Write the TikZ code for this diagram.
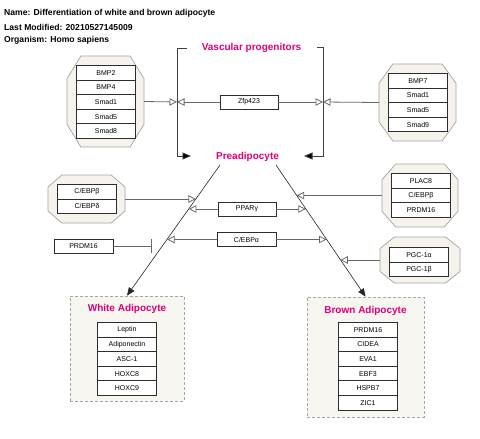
\documentclass[tikz,border=0pt]{standalone}
\usepackage{fontspec}
\setmainfont{Liberation Sans}
\usetikzlibrary{arrows.meta,calc}
\definecolor{mag}{RGB}{222,0,120}
\definecolor{octfill}{RGB}{245,243,235}
\definecolor{octdraw}{RGB}{165,165,165}
\definecolor{boxfill}{RGB}{246,245,240}
\definecolor{conn}{RGB}{105,105,105}
\definecolor{itemdraw}{RGB}{45,45,45}
\newcommand\mystack[4]{%
  \foreach \t [count=\i from 0] in {#4} {%
    \node[item] (#1\i) at (#2, {#3+\i*14.6}) {\t};}}
\newcommand\myocta[5]{%
  \node[inner sep=0pt, outer sep=0pt, minimum width={#4-#2}, minimum height={#5-#3}] (#1) at ({(#2+#4)/2},{(#3+#5)/2}) {};
  \pgfmathsetmacro\cx{0.18*(#4-#2)}\pgfmathsetmacro\cy{0.25*(#5-#3)}%
  \draw[octa] ($(#1.north west)+(\cx,0)$) -- ($(#1.north east)+(-\cx,0)$) -- ($(#1.north east)+(0,\cy)$) -- ($(#1.south east)+(0,-\cy)$) -- ($(#1.south east)+(-\cx,0)$) -- ($(#1.south west)+(\cx,0)$) -- ($(#1.south west)+(0,-\cy)$) -- ($(#1.north west)+(0,\cy)$) -- cycle;}
\begin{document}
\begin{tikzpicture}[x=1pt,y=-1pt,
  item/.style={draw=itemdraw, line width=1pt, fill=white, minimum width=59pt, minimum height=14.6pt, inner sep=0pt, font=\fontsize{7}{8}\selectfont, anchor=north west},
  gbox/.style={draw=itemdraw, line width=0.8pt, fill=white, minimum width=58pt, minimum height=14pt, inner sep=0pt, font=\fontsize{7}{8}\selectfont},
  octa/.style={draw=octdraw, fill=octfill, line width=0.7pt},
  dbox/.style={draw=octdraw, fill=boxfill, dash pattern=on 3pt off 2pt, line width=0.8pt, inner sep=0pt},
  lab/.style={text=mag, font=\bfseries\fontsize{10}{12}\selectfont, inner sep=0pt},
  ttl/.style={anchor=west, font=\bfseries\fontsize{8.6}{10}\selectfont, inner sep=0pt},
  conn/.style={draw=conn, line width=0.8pt, -{Triangle[length=7.5pt,width=7.5pt,fill=white]}},
  diag/.style={draw=black!85, line width=0.6pt, -{Triangle[length=8pt,width=6.5pt]}},
  brk/.style={draw=black!75, line width=0.8pt, -{Triangle[length=8.5pt,width=7pt,fill=black]}}
]
\fill[white] (0,0) rectangle (480,439);
\useasboundingbox (0,0) rectangle (480,439);
% titles
\node[ttl] (tname) at (4,13) {Name: Differentiation of white and brown adipocyte};
\node[ttl] (tmod) at (4,27) {Last Modified: 20210527145009};
\node[ttl] (torg) at (4,40.5) {Organism: Homo sapiens};
% labels
\node[lab] (vasc) at (251.5,48) {Vascular progenitors};
\node[lab] (pre) at (247.5,157) {Preadipocyte};
% brackets
\coordinate (bl0) at (187,48); \coordinate (bl1) at (177,48);
\coordinate (bl2) at (177,156); \coordinate (bl3) at (191,156);
\coordinate (br0) at (317,47.5); \coordinate (br1) at (323,47.5);
\coordinate (br2) at (323,156); \coordinate (br3) at (304,156);
\draw[brk] (bl0) -- (bl1) -- (bl2) -- (bl3);
\draw[brk] (br0) -- (br1) -- (br2) -- (br3);
% dashed boxes
\node[dbox, minimum width=114pt, minimum height=105pt] (white) at (127,348.5) {};
\node[lab] (wlab) at (127,309) {White Adipocyte};
\node[dbox, minimum width=117pt, minimum height=120pt] (brown) at (365.5,357) {};
\node[lab] (blab) at (365.5,311) {Brown Adipocyte};
\mystack{w}{97}{322}{Leptin,Adiponectin,ASC-1,HOXC8,HOXC9}
\mystack{b}{338}{322}{PRDM16,CIDEA,EVA1,EBF3,HSPB7,ZIC1}
% diagonals
\coordinate (pl) at (220,165); \coordinate (pr) at (276,165);
\draw[diag] (pl) -- (white.north);
\draw[diag] (pr) -- (brown.north);
% complexes
\myocta{oA}{67}{56}{144}{147}
\mystack{a}{76}{65}{BMP2,BMP4,Smad1,Smad5,Smad8}
\myocta{oB}{379}{64}{456}{141}
\mystack{bb}{388}{73}{BMP7,Smad1,Smad5,Smad9}
\myocta{oC}{48}{175}{125}{223}
\mystack{c}{57}{184}{C/EBPβ,C/EBPδ}
\myocta{oD}{382}{164}{458}{227}
\mystack{d}{391}{173}{PLAC8,C/EBPβ,PRDM16}
\myocta{oE}{380}{237}{460}{283}
\mystack{e}{389}{247}{PGC-1α,PGC-1β}
% single boxes
\node[gbox] (zfp) at (249,102) {Zfp423};
\node[gbox] (ppar) at (247,209) {PPARγ};
\node[gbox, minimum width=59pt] (cebpa) at (246.5,239.5) {C/EBPα};
\node[gbox, minimum width=59pt] (prdm) at (83.5,246) {PRDM16};
% tips
\coordinate (bt1) at (177,102); \coordinate (bt2) at (323,102);
\coordinate (t1) at (195.9,199); \coordinate (t2) at (188.8,209);
\coordinate (t3) at (305.8,209); \coordinate (t4) at (167.1,239.5);
\coordinate (t5) at (326.5,239.5); \coordinate (t6) at (296.7,195.5);
\coordinate (t7) at (340.4,260); \coordinate (tb) at (152,246);
% connectors
\draw[conn] (oA.east) -- (bt1);
\draw[conn] (zfp.west) -- (bt1);
\draw[conn] (zfp.east) -- (bt2);
\draw[conn] (oB.west) -- (bt2);
\draw[conn] (oC.east) -- (t1);
\draw[conn] (ppar.west) -- (t2);
\draw[conn] (ppar.east) -- (t3);
\draw[conn] (cebpa.west) -- (t4);
\draw[conn] (cebpa.east) -- (t5);
\draw[conn] (oD.west) -- (t6);
\draw[conn] (oE.west) -- (t7);
\draw[draw=conn, line width=0.8pt, -{Bar[width=14pt,line width=0.8pt]}] (prdm.east) -- (tb);
\end{tikzpicture}
\end{document}
